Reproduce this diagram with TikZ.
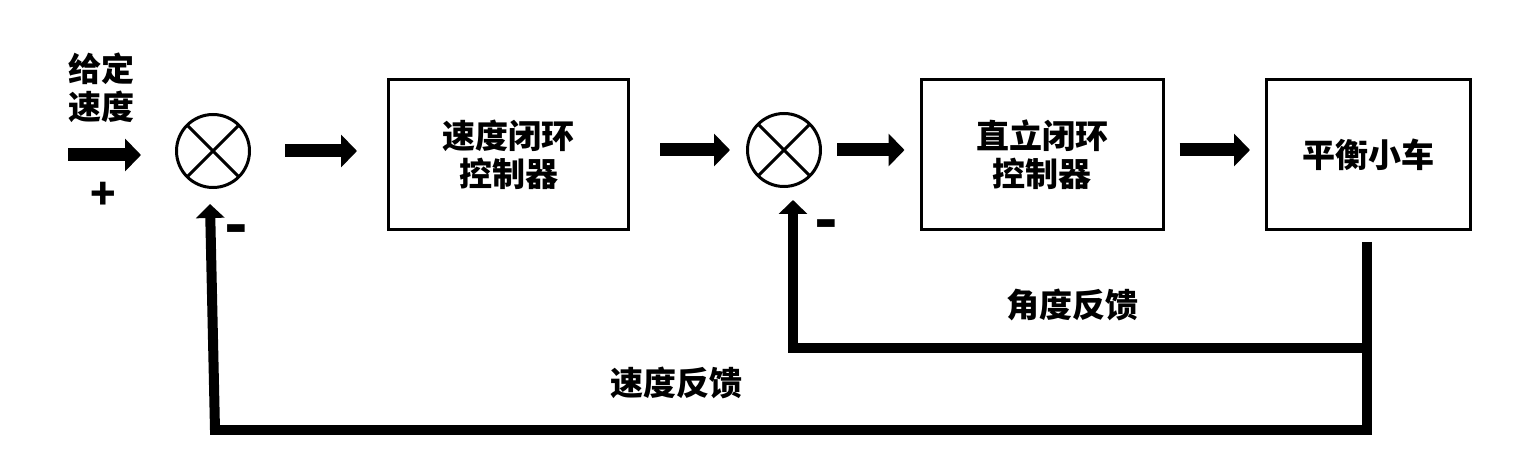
\documentclass[tikz,border=0pt]{standalone}
\usepackage{fontspec}
\setmainfont{Noto Sans CJK SC}
\usetikzlibrary{arrows.meta,calc}
\begin{document}
\begin{tikzpicture}[x=1pt,y=-1pt,
  txt/.style={font=\bfseries\fontsize{33}{38}\selectfont,align=center,inner sep=0pt},
  blk/.style={draw,line width=3pt,inner sep=0pt,font=\bfseries\fontsize{33}{38}\selectfont,align=center},
  sumj/.style={circle,draw,line width=3pt,minimum size=73pt,inner sep=0pt,
    path picture={\draw[line width=3pt] (path picture bounding box.north west) -- (path picture bounding box.south east)
                                        (path picture bounding box.north east) -- (path picture bounding box.south west);}},
  fwd/.style={line width=13pt,-{Triangle[length=16pt,width=32pt]}},
  fb/.style={line width=10pt,line join=miter},
  fbarrow/.style={fb,-{Triangle[length=14pt,width=28pt]}},
  sign/.style={font=\bfseries\fontsize{42}{46}\selectfont,inner sep=0pt},
  minus/.style={font=\bfseries\fontsize{62}{66}\selectfont,inner sep=0pt}
]
\useasboundingbox (0,0) rectangle (1521,462);
% nodes
\node[sumj] (s1) at (213,151) {};
\node[sumj] (s2) at (784,150) {};
\node[blk,minimum width=240pt,minimum height=150pt] (b1) at (508.5,154.5) {速度闭环\\控制器};
\node[blk,minimum width=242pt,minimum height=150pt] (b2) at (1042,154.5) {直立闭环\\控制器};
\node[blk,minimum width=204pt,minimum height=150pt] (b3) at (1368.5,154.5) {平衡小车};
\node[txt] (in) at (101,88) {给定\\速度};
\node[sign] (plus) at (103,196) {+};
\node[minus] (m1) at (236,236) {-};
\node[minus] (m2) at (826,231) {-};
\node[txt] (l1) at (1072,305) {角度反馈};
\node[txt] (l2) at (676,383) {速度反馈};
% coordinates
\coordinate (inS) at (68,155);
\coordinate (inE) at ($(s1.west |- inS)+(-34,0)$);
\coordinate (top3) at ($(b3.south)+(-1.5,11)$);
\coordinate (c1) at (1367,430);
\coordinate (c2) at (1367,348);
% forward arrows
\draw[fwd] (inS) -- (inE);
\draw[fwd] ($(s1.east)+(34,0)$) -- ($(b1.west |- s1)+(-30,0)$);
\draw[fwd] ($(b1.east |- s2)+(30,0)$) -- ($(s2.west)+(-16,0)$);
\draw[fwd] ($(s2.east)+(15,0)$) -- ($(b2.west |- s2)+(-15,0)$);
\draw[fwd] ($(b2.east |- s2)+(15,0)$) -- ($(b3.west |- s2)+(-15,0)$);
% feedback
\draw[fb] (top3) -- (c1) -- (210,430);
\draw[fbarrow] (215,430) -- ($(s1.south)+(-3,15)$);
\draw[fb] (c2) -- (788,348);
\draw[fbarrow] (793,353) -- ($(s2.south)+(9,12)$);
\end{tikzpicture}
\end{document}
